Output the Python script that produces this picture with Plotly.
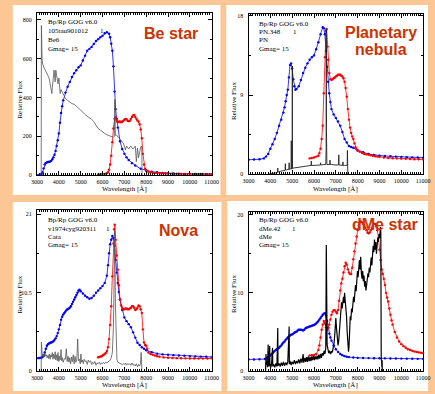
import plotly.graph_objects as go

# ---------------- data (wavelength [A], relative flux) ----------------
x_ticks = [3000, 4000, 5000, 6000, 7000, 8000, 9000, 10000, 11000]
x_tick_labels = ["3000", "4000", "5000", "6000", "7000", "8000", "9000", "10000", "11000"]

# Be star
be_bp = [(3050,0),(3100,1),(3150,3),(3200,5),(3250,15),(3300,35),(3350,55),(3400,63),(3450,66),(3500,68),
         (3550,69),(3600,70),(3650,74),(3700,82),(3750,92),(3800,105),(3850,125),(3900,150),(3950,180),(4000,215),
         (4050,270),(4100,320),(4150,355),(4200,385),(4300,425),(4400,455),(4500,480),(4600,505),(4700,525),(4800,540),
         (4900,555),(5000,565),(5100,590),(5200,615),(5300,640),(5400,650),(5500,660),(5600,675),(5700,690),(5800,700),
         (5900,710),(6000,718),(6100,730),(6200,735),(6300,728),(6350,710),(6400,676),(6450,640),(6500,560),(6550,430),
         (6600,340),(6650,290),(6700,245),(6800,175),(6900,135),(7000,110),(7100,92),(7200,78),(7350,62),(7500,50),
         (7750,33),(8000,24),(8250,18),(8500,15),(8750,12),(9000,10),(9250,9),(9500,8),(9750,7),(10000,7),
         (10250,6),(10500,6),(10750,5),(11000,5)]
be_rp = [(5800,4),(5900,5),(6000,6),(6100,7),(6200,10),(6250,15),(6300,28),(6350,55),(6400,100),(6450,170),
         (6500,240),(6550,290),(6600,300),(6650,280),(6700,272),(6750,275),(6800,277),(6850,272),(6900,275),(6950,280),
         (7000,285),(7050,290),(7100,288),(7150,280),(7200,278),(7250,280),(7300,290),(7350,300),(7400,308),(7450,310),
         (7500,300),(7550,290),(7600,282),(7650,275),(7700,262),(7750,235),(7800,190),(7850,110),(7900,55),(7950,33),
         (8000,24),(8100,18),(8200,15),(8300,13),(8400,12),(8500,11),(8600,11),(8700,10),(8800,10),(8900,9),
         (9000,9),(9200,8),(9400,8),(9600,7),(9800,7),(10000,7),(10200,6),(10400,6),(10600,6),(10800,5),(11000,5)]
be_obs = [(3190,0),(3200,770),(3210,650),(3230,600),(3260,570),(3300,555),(3350,545),(3400,535),(3450,525),(3500,515),
          (3550,500),(3600,470),(3650,430),(3680,420),(3700,450),(3750,500),(3780,540),(3800,520),(3830,480),(3860,540),
          (3900,500),(3930,490),(3960,470),(4000,500),(4030,440),(4060,420),(4100,440),(4150,430),(4200,420),(4300,395),
          (4400,385),(4500,375),(4600,368),(4700,365),(4800,357),(4900,345),(5000,335),(5100,322),(5200,312),(5300,303),
          (5400,295),(5500,288),(5600,275),(5700,255),(5800,240),(5900,232),(6000,222),(6100,215),(6200,208),(6300,203),
          (6400,200),(6500,195),(6540,200),(6563,390),(6590,205),(6650,205),(6700,200),(6800,185),(6850,178),(6900,172),
          (6950,165),(7000,150),(7050,130),(7100,150),(7150,140),(7200,135),(7250,145),(7300,150),(7350,140),(7400,135),
          (7450,140),(7500,150),(7550,70),(7600,140),(7650,90),(7700,130),(7750,145),(7780,150),(7800,140),(7810,0),(7830,0)]

# Planetary nebula
pn_bp = [(3000,1.65),(3250,1.67),(3500,1.7),(3700,1.8),(3800,2.0),(3900,2.3),(4000,2.9),(4100,3.4),(4200,4.0),(4300,4.7),
         (4400,5.5),(4500,6.2),(4600,7.0),(4650,7.6),(4700,8.3),(4750,9.0),(4800,9.6),(4850,11.0),(4900,12.4),(4950,12.6),
         (5000,12.0),(5050,10.8),(5100,10.0),(5150,9.6),(5200,9.7),(5300,10.0),(5400,10.7),(5500,11.5),(5600,12.1),(5700,12.6),
         (5800,13.0),(5900,13.3),(6000,13.5),(6100,14.2),(6200,15.0),(6300,15.9),(6400,16.7),(6450,16.6),(6500,15.9),(6550,14.0),
         (6600,12.2),(6650,10.5),(6700,9.2),(6750,8.2),(6800,7.4),(6900,6.8),(7000,6.4),(7100,6.0),(7200,5.5),(7300,4.8),
         (7400,4.0),(7500,3.6),(7600,3.2),(7700,3.1),(7800,3.0),(8000,2.7),(8250,2.5),(8500,2.3),(8750,2.2),(9000,2.1),
         (9250,2.07),(9500,2.04),(9750,2.0),(10000,1.97),(10250,1.94),(10500,1.92),(10750,1.9),(11000,1.88)]
pn_rp = [(5800,1.8),(5900,1.85),(6000,1.9),(6100,2.0),(6200,2.1),(6250,2.4),(6300,2.9),(6350,4.0),(6400,5.5),(6450,9.2),
         (6500,13.3),(6550,16.3),(6580,16.5),(6620,14.5),(6650,13.0),(6700,11.5),(6750,10.8),(6800,10.7),(6850,10.8),(6900,10.9),
         (6950,11.0),(7000,11.1),(7050,11.2),(7100,11.3),(7150,11.3),(7200,11.3),(7250,11.2),(7300,11.1),(7350,10.9),(7400,10.5),
         (7450,9.8),(7500,8.8),(7550,7.4),(7600,6.2),(7650,5.3),(7700,4.7),(7750,4.3),(7800,4.0),(7850,3.5),(7900,3.06),
         (7950,2.85),(8000,2.7),(8100,2.55),(8200,2.4),(8300,2.3),(8400,2.25),(8500,2.2),(8600,2.15),(8700,2.1),(8800,2.05),
         (8900,2.0),(9000,1.95),(9200,1.9),(9400,1.85),(9600,1.82),(9800,1.8),(10000,1.77),(10200,1.75),(10400,1.73),(10600,1.71),
         (10800,1.7),(11000,1.68)]
pn_obs = [(3900,0.0),(4000,0.05),(4100,0.1),(4200,0.15),(4300,0.2),(4330,0.2),(4340,0.7),(4350,0.25),(4400,0.3),(4500,0.35),
          (4600,0.4),(4680,0.45),(4686,1.2),(4692,0.5),(4750,0.5),(4850,0.55),(4861,1.3),(4870,0.55),(4920,0.6),(4955,0.6),
          (4959,3.8),(4963,0.6),(4990,0.65),(5003,0.65),(5007,12.3),(5011,0.65),(5050,0.7),(5200,0.75),(5400,0.8),(5600,0.9),
          (5800,1.0),(5870,1.0),(5876,1.5),(5882,1.0),(6000,1.0),(6200,1.05),(6290,1.05),(6300,1.3),(6310,1.05),(6450,1.1),
          (6540,1.1),(6555,3.0),(6563,16.5),(6571,5.0),(6590,1.1),(6620,1.1),(6700,1.1),(6725,1.1),(6731,1.6),(6737,1.1),
          (6800,1.1),(6900,1.05),(7000,1.05),(7120,1.05),(7135,2.2),(7150,1.05),(7300,1.0),(7320,1.0),(7325,1.4),(7330,1.0),
          (7400,1.0),(7500,1.0),(7520,1.0),(7530,2.7),(7540,1.0),(7550,0.0)]

# Nova
nova_bp = [(3050,1.75),(3100,1.77),(3150,1.78),(3200,1.8),(3250,1.9),(3300,2.1),(3350,2.5),(3400,3.0),(3450,3.4),(3500,3.6),
           (3550,3.7),(3600,3.8),(3650,3.85),(3700,3.9),(3750,4.0),(3800,4.2),(3850,4.4),(3900,4.7),(3950,5.1),(4000,5.6),
           (4050,6.2),(4100,6.9),(4150,7.3),(4200,7.6),(4250,7.8),(4300,8.0),(4350,8.2),(4400,8.3),(4450,8.4),(4500,8.5),
           (4550,8.7),(4600,9.0),(4650,9.3),(4700,9.6),(4750,9.9),(4800,10.2),(4850,10.5),(4900,10.8),(4950,10.9),(5000,10.7),
           (5100,10.4),(5200,10.1),(5300,9.9),(5400,9.7),(5500,9.8),(5600,10.1),(5700,10.5),(5800,10.8),(5900,11.1),(6000,11.4),
           (6100,11.8),(6200,12.8),(6250,14.2),(6300,15.8),(6350,17.0),(6400,17.6),(6450,18.1),(6500,17.8),(6550,16.8),(6600,14.9),
           (6650,13.2),(6700,11.8),(6750,10.6),(6800,9.6),(6900,8.2),(7000,7.2),(7100,6.7),(7200,6.3),(7300,5.9),(7400,5.2),
           (7500,4.5),(7600,3.8),(7700,3.5),(7800,3.2),(7900,3.0),(8000,2.8),(8250,2.55),(8500,2.35),(8750,2.25),(9000,2.2),
           (9250,2.15),(9500,2.1),(9750,2.06),(10000,2.02),(10250,1.98),(10500,1.95),(10750,1.93),(11000,1.9)]
nova_rp = [(5800,1.86),(5850,1.9),(5900,1.95),(5950,2.0),(6000,2.1),(6050,2.2),(6100,2.3),(6150,2.45),(6200,2.7),(6250,3.2),
           (6300,4.3),(6350,6.2),(6400,8.7),(6450,12.7),(6500,17.1),(6530,19.0),(6560,19.6),(6600,17.6),(6650,15.5),(6700,13.6),
           (6750,11.5),(6800,9.6),(6850,8.8),(6900,8.5),(6950,8.3),(7000,8.3),(7050,8.4),(7100,8.4),(7150,8.3),(7200,8.3),
           (7250,8.4),(7300,8.5),(7350,8.7),(7400,8.7),(7450,8.5),(7500,8.2),(7550,8.3),(7600,8.5),(7650,8.8),(7700,8.7),
           (7750,8.3),(7800,7.8),(7850,5.6),(7900,3.85),(7950,3.5),(8000,3.4),(8050,3.0),(8100,2.5),(8200,2.3),(8300,2.2),
           (8400,2.1),(8500,2.0),(8600,1.95),(8800,1.85),(9000,1.8),(9200,1.77),(9400,1.75),(9600,1.73),(9800,1.72),(10000,1.7),
           (10200,1.7),(10400,1.7),(10600,1.7),(10800,1.7),(11000,1.7)]
nova_obs = [(3180,0),(3190,0),(3200,3.9),(3210,2.8),(3230,2.5),(3260,2.0),(3300,2.3),(3330,1.9),(3360,2.4),(3400,2.0),
            (3430,2.2),(3460,1.8),(3500,2.1),(3530,1.7),(3560,2.3),(3600,1.6),(3630,2.2),(3660,1.9),(3700,2.5),(3730,1.6),
            (3760,2.3),(3800,1.7),(3830,2.6),(3860,1.5),(3900,2.2),(3930,1.4),(3960,2.5),(4000,1.3),(4030,2.0),(4060,1.5),
            (4100,2.9),(4130,1.4),(4160,1.8),(4200,1.2),(4250,1.7),(4300,1.6),(4340,3.0),(4380,1.3),(4420,2.0),(4460,1.2),
            (4500,1.8),(4540,1.0),(4580,1.9),(4620,1.3),(4660,2.2),(4700,1.0),(4740,2.0),(4780,1.2),(4820,1.5),(4861,4.3),
            (4900,1.4),(4940,1.6),(4980,1.0),(5010,2.3),(5040,1.2),(5080,1.5),(5120,1.0),(5160,1.6),(5200,1.3),(5250,1.4),
            (5300,0.9),(5350,1.5),(5400,1.2),(5450,1.4),(5500,0.9),(5550,1.2),(5600,1.0),(5650,1.3),(5700,0.8),(5750,1.1),
            (5800,1.0),(5850,1.2),(5900,0.9),(5950,1.1),(6000,1.0),(6050,1.2),(6100,1.0),(6150,1.2),(6200,1.1),(6250,1.3),
            (6300,1.3),(6350,1.5),(6400,1.8),(6450,2.5),(6500,6.0),(6530,12.0),(6563,18.8),(6590,9.0),(6620,3.0),(6660,1.6),
            (6700,1.2),(6750,1.1),(6800,1.0),(6850,1.0),(6900,0.9),(6950,1.0),(7000,0.9),(7050,1.1),(7100,0.8),(7150,1.0),
            (7200,0.9),(7250,1.0),(7300,0.8),(7350,1.1),(7400,0.8),(7450,0.9),(7500,0.7),(7550,1.0),(7600,0.6),(7650,0.9),
            (7700,0.7),(7740,1.0),(7770,2.5),(7790,1.2),(7800,0)]

# dMe star
dme_bp = [(3000,1.5),(3250,1.5),(3500,1.52),(3750,1.55),(3800,1.6),(3850,1.7),(3900,1.8),(3950,1.9),(4000,2.0),(4050,2.15),
          (4100,2.3),(4150,2.45),(4200,2.6),(4250,2.7),(4300,2.8),(4350,2.9),(4400,3.0),(4450,3.15),(4500,3.3),(4550,3.5),
          (4600,3.66),(4650,3.8),(4700,4.0),(4750,4.15),(4800,4.3),(4850,4.45),(4900,4.55),(4950,4.65),(5000,4.7),(5050,4.8),
          (5100,4.9),(5150,5.0),(5200,5.05),(5250,5.2),(5300,5.3),(5350,5.3),(5400,5.3),(5450,5.25),(5500,5.2),(5550,5.3),
          (5600,5.45),(5650,5.55),(5700,5.6),(5750,5.65),(5800,5.7),(5850,5.75),(5900,5.8),(5950,5.85),(6000,5.9),(6050,6.0),
          (6100,6.1),(6150,6.25),(6200,6.4),(6250,6.6),(6300,6.8),(6350,7.0),(6400,7.2),(6450,7.35),(6500,7.4),(6550,7.1),
          (6600,6.4),(6650,5.6),(6700,4.8),(6750,4.3),(6800,3.9),(6900,3.3),(7000,2.8),(7100,2.45),(7200,2.2),(7300,2.05),
          (7400,1.92),(7500,1.85),(7600,1.8),(7800,1.75),(8000,1.7),(8250,1.68),(8500,1.67),(8750,1.66),(9000,1.65),(9250,1.64),
          (9500,1.63),(9750,1.62),(10000,1.61),(10250,1.6),(10500,1.59),(10750,1.58),(11000,1.58)]
dme_rp = [(5800,2.0),(5900,2.05),(6000,2.08),(6100,2.2),(6200,2.7),(6250,3.3),(6300,4.3),(6350,5.3),(6400,5.95),(6450,6.4),
          (6500,6.1),(6550,5.6),(6600,5.3),(6650,5.5),(6700,5.95),(6750,6.6),(6800,7.2),(6850,7.6),(6900,7.8),(6950,7.8),
          (7000,7.6),(7050,7.4),(7100,7.8),(7150,9.0),(7200,10.3),(7250,11.2),(7300,11.8),(7350,12.6),(7400,13.4),(7450,13.85),
          (7500,13.6),(7550,13.0),(7600,12.6),(7650,12.4),(7700,12.4),(7750,13.2),(7800,14.3),(7850,15.3),(7900,16.3),(7950,17.2),
          (8000,18.0),(8050,18.6),(8100,19.0),(8150,19.1),(8200,19.0),(8250,18.8),(8300,18.6),(8350,18.3),(8400,18.0),(8450,17.7),
          (8500,17.6),(8550,17.7),(8600,18.0),(8650,18.3),(8700,18.6),(8750,18.8),(8800,18.8),(8850,18.5),(8900,18.0),(8950,17.0),
          (9000,15.5),(9050,14.2),(9100,13.0),(9150,12.4),(9200,11.8),(9250,11.0),(9300,10.0),(9350,9.4),(9400,8.9),(9450,8.0),
          (9500,7.2),(9550,6.5),(9600,5.95),(9700,5.0),(9800,4.3),(9900,3.8),(10000,3.45),(10100,3.2),(10200,3.0),(10300,2.8),
          (10400,2.7),(10500,2.6),(10600,2.5),(10700,2.45),(10800,2.4),(10900,2.35),(11000,2.33)]
dme_obs = [(3780,0),(3800,2.2),(3820,0.8),(3850,1.3),(3870,0.5),(3900,3.4),(3910,0.6),(3940,1.0),(3970,3.2),(3980,0.6),
           (4000,0.9),(4030,0.5),(4060,1.1),(4100,3.0),(4110,0.6),(4150,0.9),(4200,0.5),(4250,1.0),(4300,0.6),(4340,5.5),
           (4350,0.7),(4400,1.0),(4450,0.6),(4500,1.1),(4550,0.7),(4600,1.2),(4650,0.7),(4700,1.1),(4750,0.8),(4800,1.2),
           (4861,5.7),(4870,0.9),(4900,1.3),(4950,0.8),(5000,1.2),(5050,0.9),(5100,1.4),(5150,0.9),(5200,1.3),(5250,1.0),
           (5300,1.5),(5350,1.0),(5400,1.6),(5450,1.1),(5500,2.2),(5530,1.1),(5580,1.7),(5620,1.2),(5660,1.8),(5700,1.2),
           (5740,1.9),(5780,1.3),(5820,1.8),(5860,1.3),(5900,1.9),(5940,1.4),(5980,2.0),(6020,1.4),(6060,1.9),(6100,1.5),
           (6140,2.0),(6180,1.5),(6220,2.1),(6260,1.6),(6300,2.2),(6340,1.7),(6380,2.3),(6420,2.0),(6460,2.6),(6500,2.2),
           (6540,3.0),(6563,16.1),(6580,3.5),(6600,3.4),(6640,2.8),(6680,2.3),(6720,2.6),(6760,2.2),(6800,2.5),(6840,2.4),
           (6880,3.0),(6920,3.6),(6960,5.0),(7000,6.8),(7030,5.5),(7060,4.0),(7100,3.3),(7130,3.8),(7160,4.8),(7200,5.8),
           (7230,7.5),(7260,8.8),(7290,8.0),(7320,8.9),(7350,9.5),(7380,8.7),(7400,10.0),(7430,9.0),(7460,8.2),(7490,7.0),
           (7520,5.0),(7550,3.5),(7580,2.5),(7600,3.0),(7630,5.0),(7660,7.0),(7690,6.5),(7720,8.0),(7750,7.5),(7780,8.5),
           (7810,9.5),(7840,8.8),(7870,10.0),(7900,11.0),(7930,10.2),(7960,12.0),(7990,12.8),(8020,12.0),(8050,13.6),(8080,14.2),
           (8110,13.0),(8140,14.6),(8170,12.5),(8200,11.8),(8230,12.8),(8260,11.5),(8290,12.2),(8320,10.8),(8350,11.5),(8380,10.3),
           (8410,11.0),(8440,11.8),(8470,12.5),(8500,12.0),(8530,13.2),(8560,12.6),(8590,13.8),(8620,14.5),(8650,13.5),(8680,15.0),
           (8710,16.0),(8740,15.2),(8770,16.8),(8800,15.5),(8830,16.5),(8860,15.0),(8890,16.2),(8920,17.0),(8950,16.5),(8980,17.5),
           (9010,17.0),(9040,18.4),(9060,17.8),(9080,1.5),(9100,1.3),(9110,0.5),(9120,1.4),(9130,0)]

# panel texts
header = "Bp/Rp GOG v6.0"
source_ids = ["105tau901012", "PN.348", "v1974cyg920311", "dMe.42"]
classes = ["Be6", "PN", "Cata", "dMe"]
gmag = "Gmag= 15"
titles = [["Be star"], ["Planetary", "nebula"], ["Nova"], ["dMe star"]]
y_ticks = [[0, 200, 400, 600, 800], [0, 9, 18], [0, 10.5, 21], [0, 10, 20]]
y_tick_labels = [["0", "200", "400", "600", "800"], ["0", "9", "18"], ["0", "10.5", "21"], ["0", "10", "20"]]
spectra = [(be_bp, be_rp, be_obs), (pn_bp, pn_rp, pn_obs), (nova_bp, nova_rp, nova_obs), (dme_bp, dme_rp, dme_obs)]

# ---------------- layout geometry (pixels) ----------------
W, H = 435, 394
SERIF = "Liberation Serif"
SANS = "Liberation Sans"
ORANGE = "#fcc795"
TITLE_RED = "#cc3300"

def fx(x):
    return x / W

def fy(y):
    return 1 - y / H

geo = [
    dict(frame=(32, 212, 12, 176), panel=(7, 221, 4, 196), yr=835, ymin=100, txt=(42, [21, 30, 39, 48], 96),
         titles=[(170, 33)], xt=(122, 190), yt=(14, 100), obs_col="#555555", obs_w=0.8),
    dict(frame=(250, 430, 13, 175), panel=(227, 435, 4, 196), yr=18.22, ymin=4.5, txt=(260, [23, 31, 39, 48], 295),
         titles=[(387, 32), (387, 49)], xt=(340, 190), yt=(235, 101), obs_col="#222222", obs_w=0.9),
    dict(frame=(32, 212, 211, 374), panel=(7, 222, 203, 394), yr=21.6, ymin=5.25, txt=(42, [221, 230, 238, 247], 102),
         titles=[(178, 232)], xt=(122, 388), yt=(14, 297), obs_col="#555555", obs_w=0.8),
    dict(frame=(250, 430, 213, 374), panel=(228, 435, 202, 394), yr=20.34, ymin=5, txt=(260, [221, 230, 238, 247], 294),
         titles=[(391, 226)], xt=(340, 388), yt=(235, 296), obs_col="#000000", obs_w=1.2),
]

fig = go.Figure()
shapes = []
annotations = []

def ann(text, x, y, size=7, xanchor="left", family=SERIF, color="black", angle=0):
    annotations.append(dict(text=text, x=fx(x), y=fy(y), xref="paper", yref="paper", showarrow=False,
                            xanchor=xanchor, yanchor="middle", textangle=angle, borderpad=0,
                            font=dict(family=family, size=size, color=color)))

layout_axes = {}
for i, g in enumerate(geo):
    n = i + 1
    xa = "x" if n == 1 else f"x{n}"
    ya = "y" if n == 1 else f"y{n}"
    x0, x1, y0, y1 = g["frame"]
    px0, px1, py0, py1 = g["panel"]
    shapes.append(dict(type="rect", xref="paper", yref="paper", x0=fx(px0), x1=fx(px1), y0=fy(py1), y1=fy(py0),
                       fillcolor="white", line=dict(width=0), layer="below"))
    common = dict(showline=True, linecolor="black", linewidth=1, mirror="allticks", ticks="inside", ticklen=4,
                  tickwidth=1, tickcolor="black", showgrid=False, zeroline=False,
                  tickfont=dict(family=SERIF, size=6, color="black"))
    layout_axes["xaxis" if n == 1 else f"xaxis{n}"] = dict(
        common, domain=[fx(x0), fx(x1)], anchor=ya, range=[3000, 11000], tickvals=x_ticks, ticktext=x_tick_labels,
        ticklabelstandoff=1,
        minor=dict(ticks="inside", ticklen=2, tickcolor="black", dtick=100, showgrid=False))
    layout_axes["yaxis" if n == 1 else f"yaxis{n}"] = dict(
        common, domain=[fy(y1), fy(y0)], anchor=xa, range=[0, g["yr"]], tickvals=y_ticks[i], ticktext=y_tick_labels[i],
        ticklabelstandoff=3,
        minor=dict(ticks="inside", ticklen=2, tickcolor="black", dtick=g["ymin"], showgrid=False))

    bp, rp, obs = spectra[i]
    fig.add_trace(go.Scatter(x=[p[0] for p in bp], y=[p[1] for p in bp], xaxis=xa, yaxis=ya, mode="lines+markers",
                             line=dict(color="#0000ff", width=0.8), marker=dict(color="#0000ff", size=2.4),
                             showlegend=False, hoverinfo="skip"))
    fig.add_trace(go.Scatter(x=[p[0] for p in rp], y=[p[1] for p in rp], xaxis=xa, yaxis=ya, mode="lines+markers",
                             line=dict(color="#ff0000", width=0.8), marker=dict(color="#ff0000", size=2.4),
                             showlegend=False, hoverinfo="skip"))
    fig.add_trace(go.Scatter(x=[p[0] for p in obs], y=[p[1] for p in obs], xaxis=xa, yaxis=ya, mode="lines",
                             line=dict(color=g["obs_col"], width=g["obs_w"]), showlegend=False, hoverinfo="skip"))

    tx, tys, one_x = g["txt"]
    ann(header, tx, tys[0])
    ann(source_ids[i], tx, tys[1])
    ann("1", one_x, tys[1])
    ann(classes[i], tx, tys[2])
    ann(gmag, tx, tys[3])
    for (cx, cy), t in zip(g["titles"], titles[i]):
        ann(f"<b>{t}</b>", cx, cy, size=16, xanchor="center", family=SANS, color=TITLE_RED)
    ann("Wavelength [Å]", g["xt"][0], g["xt"][1], size=7, xanchor="center")
    ann("Relative Flux", g["yt"][0], g["yt"][1], size=7, xanchor="center", angle=-90)

fig.update_layout(width=W, height=H, autosize=False, margin=dict(l=0, r=0, t=0, b=0, pad=0),
                  paper_bgcolor=ORANGE, plot_bgcolor="white", shapes=shapes, annotations=annotations,
                  showlegend=False, hovermode=False, **layout_axes)

# remove the default page margin so the figure sits at the window's top-left corner
fig.write_html("out.html", config={"displayModeBar": False, "staticPlot": True},
               post_script="document.body.style.margin='0';document.body.style.background='" + ORANGE + "';")
